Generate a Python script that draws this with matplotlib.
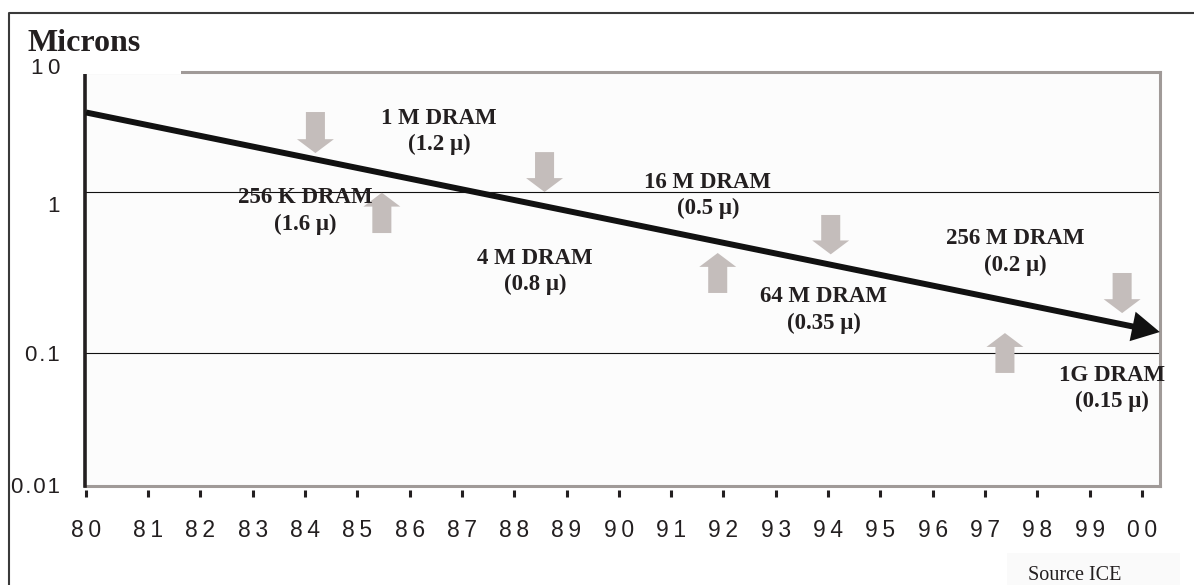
import numpy as np
import matplotlib
matplotlib.use('Agg')
import matplotlib.pyplot as plt
from matplotlib.patches import Rectangle
from matplotlib.lines import Line2D
from matplotlib.transforms import ScaledTranslation

# DRAM generations and their feature size
dram_names = ['256 K DRAM', '1 M DRAM', '4 M DRAM', '16 M DRAM',
              '64 M DRAM', '256 M DRAM', '1G DRAM']
dram_microns = ['1.6', '1.2', '0.8', '0.5', '0.35', '0.2', '0.15']

# trend line: year -> microns
trend_years = [80.0, 100.34]
trend_microns = [4.6, 0.135]

# gray markers (year, start value, end value)
down_years = [84.20, 88.58, 94.05, 99.62]
down_from = [4.64, 2.15, 0.72, 0.314]
down_to = [2.11, 1.0, 0.41, 0.177]
up_years = [85.47, 91.89, 97.38]
up_from = [0.556, 0.236, 0.0708]
up_to = [0.99, 0.418, 0.133]

years = list(range(80, 101))
year_labels = ['%02d' % (y % 100) for y in years]
ytick_values = [10, 1, 0.1, 0.01]
ytick_labels = ['10', '1', '0.1', '0.01']
grid_values = [1, 0.1]

# where the generation labels sit (year, microns)
label_pos = [(84.0, 0.762), (86.56, 3.22), (88.40, 0.321), (91.70, 0.951),
             (93.92, 0.185), (97.57, 0.424), (99.43, 0.054)]
# little vertical nudges (px, down) of the y labels
ylabel_nudge = [-4, 14, 2, 1]

W, H = 1194, 585
INK = '#231f20'
FRAME_GRAY = '#a09a98'
ARROW_GRAY = '#c4bdbb'
SERIF = ['Liberation Serif', 'DejaVu Serif']
plt.rcParams['font.family'] = ['Liberation Sans', 'DejaVu Sans']

# the original axis is not evenly spaced, so use piecewise scales
X_YEARS = [79.9, 80, 81, 100, 100.5]
X_PIX = [80.8, 86, 148, 1142, 1168.2]
Y_LOGS = [-2, -1, 0, 1]
Y_PIX = [-486, -353, -192, -72]


def x_fwd(v):
    return np.interp(v, X_YEARS, X_PIX)


def x_inv(p):
    return np.interp(p, X_PIX, X_YEARS)


def y_fwd(v):
    return np.interp(np.log10(np.clip(v, 1e-6, None)), Y_LOGS, Y_PIX)


def y_inv(p):
    return 10 ** np.interp(p, Y_PIX, Y_LOGS)


def track(s):
    gap = '\u200a' if '.' in s else '\u2009'
    return gap.join(s)


def fx(x):
    return x / W


def fy(y):
    return 1 - y / H


fig = plt.figure(figsize=(W / 100, H / 100), dpi=100)
ax = fig.add_axes([fx(85), fy(486), (1160 - 85) / W, (486 - 72) / H])
ax.set_facecolor('#fcfcfc')
ax.set_xscale('function', functions=(x_fwd, x_inv))
ax.set_yscale('function', functions=(y_fwd, y_inv))
ax.set_xlim(float(x_inv(85)), float(x_inv(1160)))
ax.set_ylim(0.01, 10)

# frame
for side in ['top', 'right']:
    ax.spines[side].set_color(FRAME_GRAY)
    ax.spines[side].set_linewidth(2.2)
ax.spines['left'].set_color(INK)
ax.spines['left'].set_linewidth(2.6)
ax.spines['bottom'].set_visible(False)
ax.spines['bottom'].set_position(('outward', 3))
ax.plot([0, 1], [0, 0], transform=ax.transAxes, color=FRAME_GRAY, lw=2.2,
        clip_on=False, zorder=2.5, solid_capstyle='projecting')

# x ticks
ax.set_xticks(years)
ax.set_xticklabels([track(s) for s in year_labels])
ax.tick_params(axis='x', direction='out', length=5, width=2.2, color=INK,
               pad=16, labelsize=16.5, labelcolor=INK)
ax.set_yticks([])
ax.minorticks_off()

# y labels as text, slightly nudged like the original
for val, lbl, dy in zip(ytick_values, ytick_labels, ylabel_nudge):
    tr = ax.get_yaxis_transform() + ScaledTranslation(0, -dy / 100, fig.dpi_scale_trans)
    ax.text(-0.0233, val, track(lbl), transform=tr, ha='right', va='center',
            fontsize=16, color=INK, clip_on=False, zorder=4)

for v in grid_values:
    ax.axhline(v, color='#111111', lw=0.8, zorder=1)

# gray markers
gray_style = 'simple,head_length=1.0,head_width=2.66,tail_width=1.37'
for x, a, b in zip(down_years + up_years, down_from + up_from, down_to + up_to):
    ax.annotate('', xy=(x, b), xytext=(x, a), annotation_clip=False,
                arrowprops=dict(arrowstyle=gray_style, mutation_scale=10,
                                fc=ARROW_GRAY, ec='none', lw=0,
                                shrinkA=0, shrinkB=0), zorder=2)

# trend
ax.annotate('', xy=(trend_years[1], trend_microns[1]),
            xytext=(trend_years[0], trend_microns[0]), annotation_clip=False,
            arrowprops=dict(arrowstyle='simple,head_length=2.0,head_width=2.16,tail_width=0.43',
                            mutation_scale=10, fc='#111111', ec='none', lw=0,
                            shrinkA=0, shrinkB=0), zorder=3)

for (x, y), name, size in zip(label_pos, dram_names, dram_microns):
    ax.text(x, y, '%s\n(%s \u03bc)' % (name, size), ha='center', va='center',
            multialignment='center', linespacing=1.3, fontsize=16.5,
            fontweight='bold', family=SERIF, color=INK, clip_on=False, zorder=4)

# white patch behind the title, over the top border
ax.add_artist(Rectangle((fx(9), fy(73.5)), fx(181) - fx(9), fy(13) - fy(73.5),
                        transform=fig.transFigure, fc='white', ec='none',
                        clip_on=False, zorder=2.8))
fig.text(fx(27), fy(51), 'Microns', fontsize=23, fontweight='bold',
         family=SERIF, color=INK, ha='left', va='baseline')

# outer frame
fig.add_artist(Line2D([fx(8.5), fx(8.5), 1.0], [0.0, fy(12.5), fy(12.5)],
                      transform=fig.transFigure, color='#3a3a3a', lw=1.5))

# source note
fig.add_artist(Rectangle((fx(1007), 0), fx(1180) - fx(1007), fy(553),
                         transform=fig.transFigure, fc='#fafafa', ec='none'))
fig.text(fx(1075), fy(575), 'Source ICE', fontsize=14.5, family=SERIF,
         color=INK, ha='center', va='center')

fig.savefig('out.png', dpi=100)
